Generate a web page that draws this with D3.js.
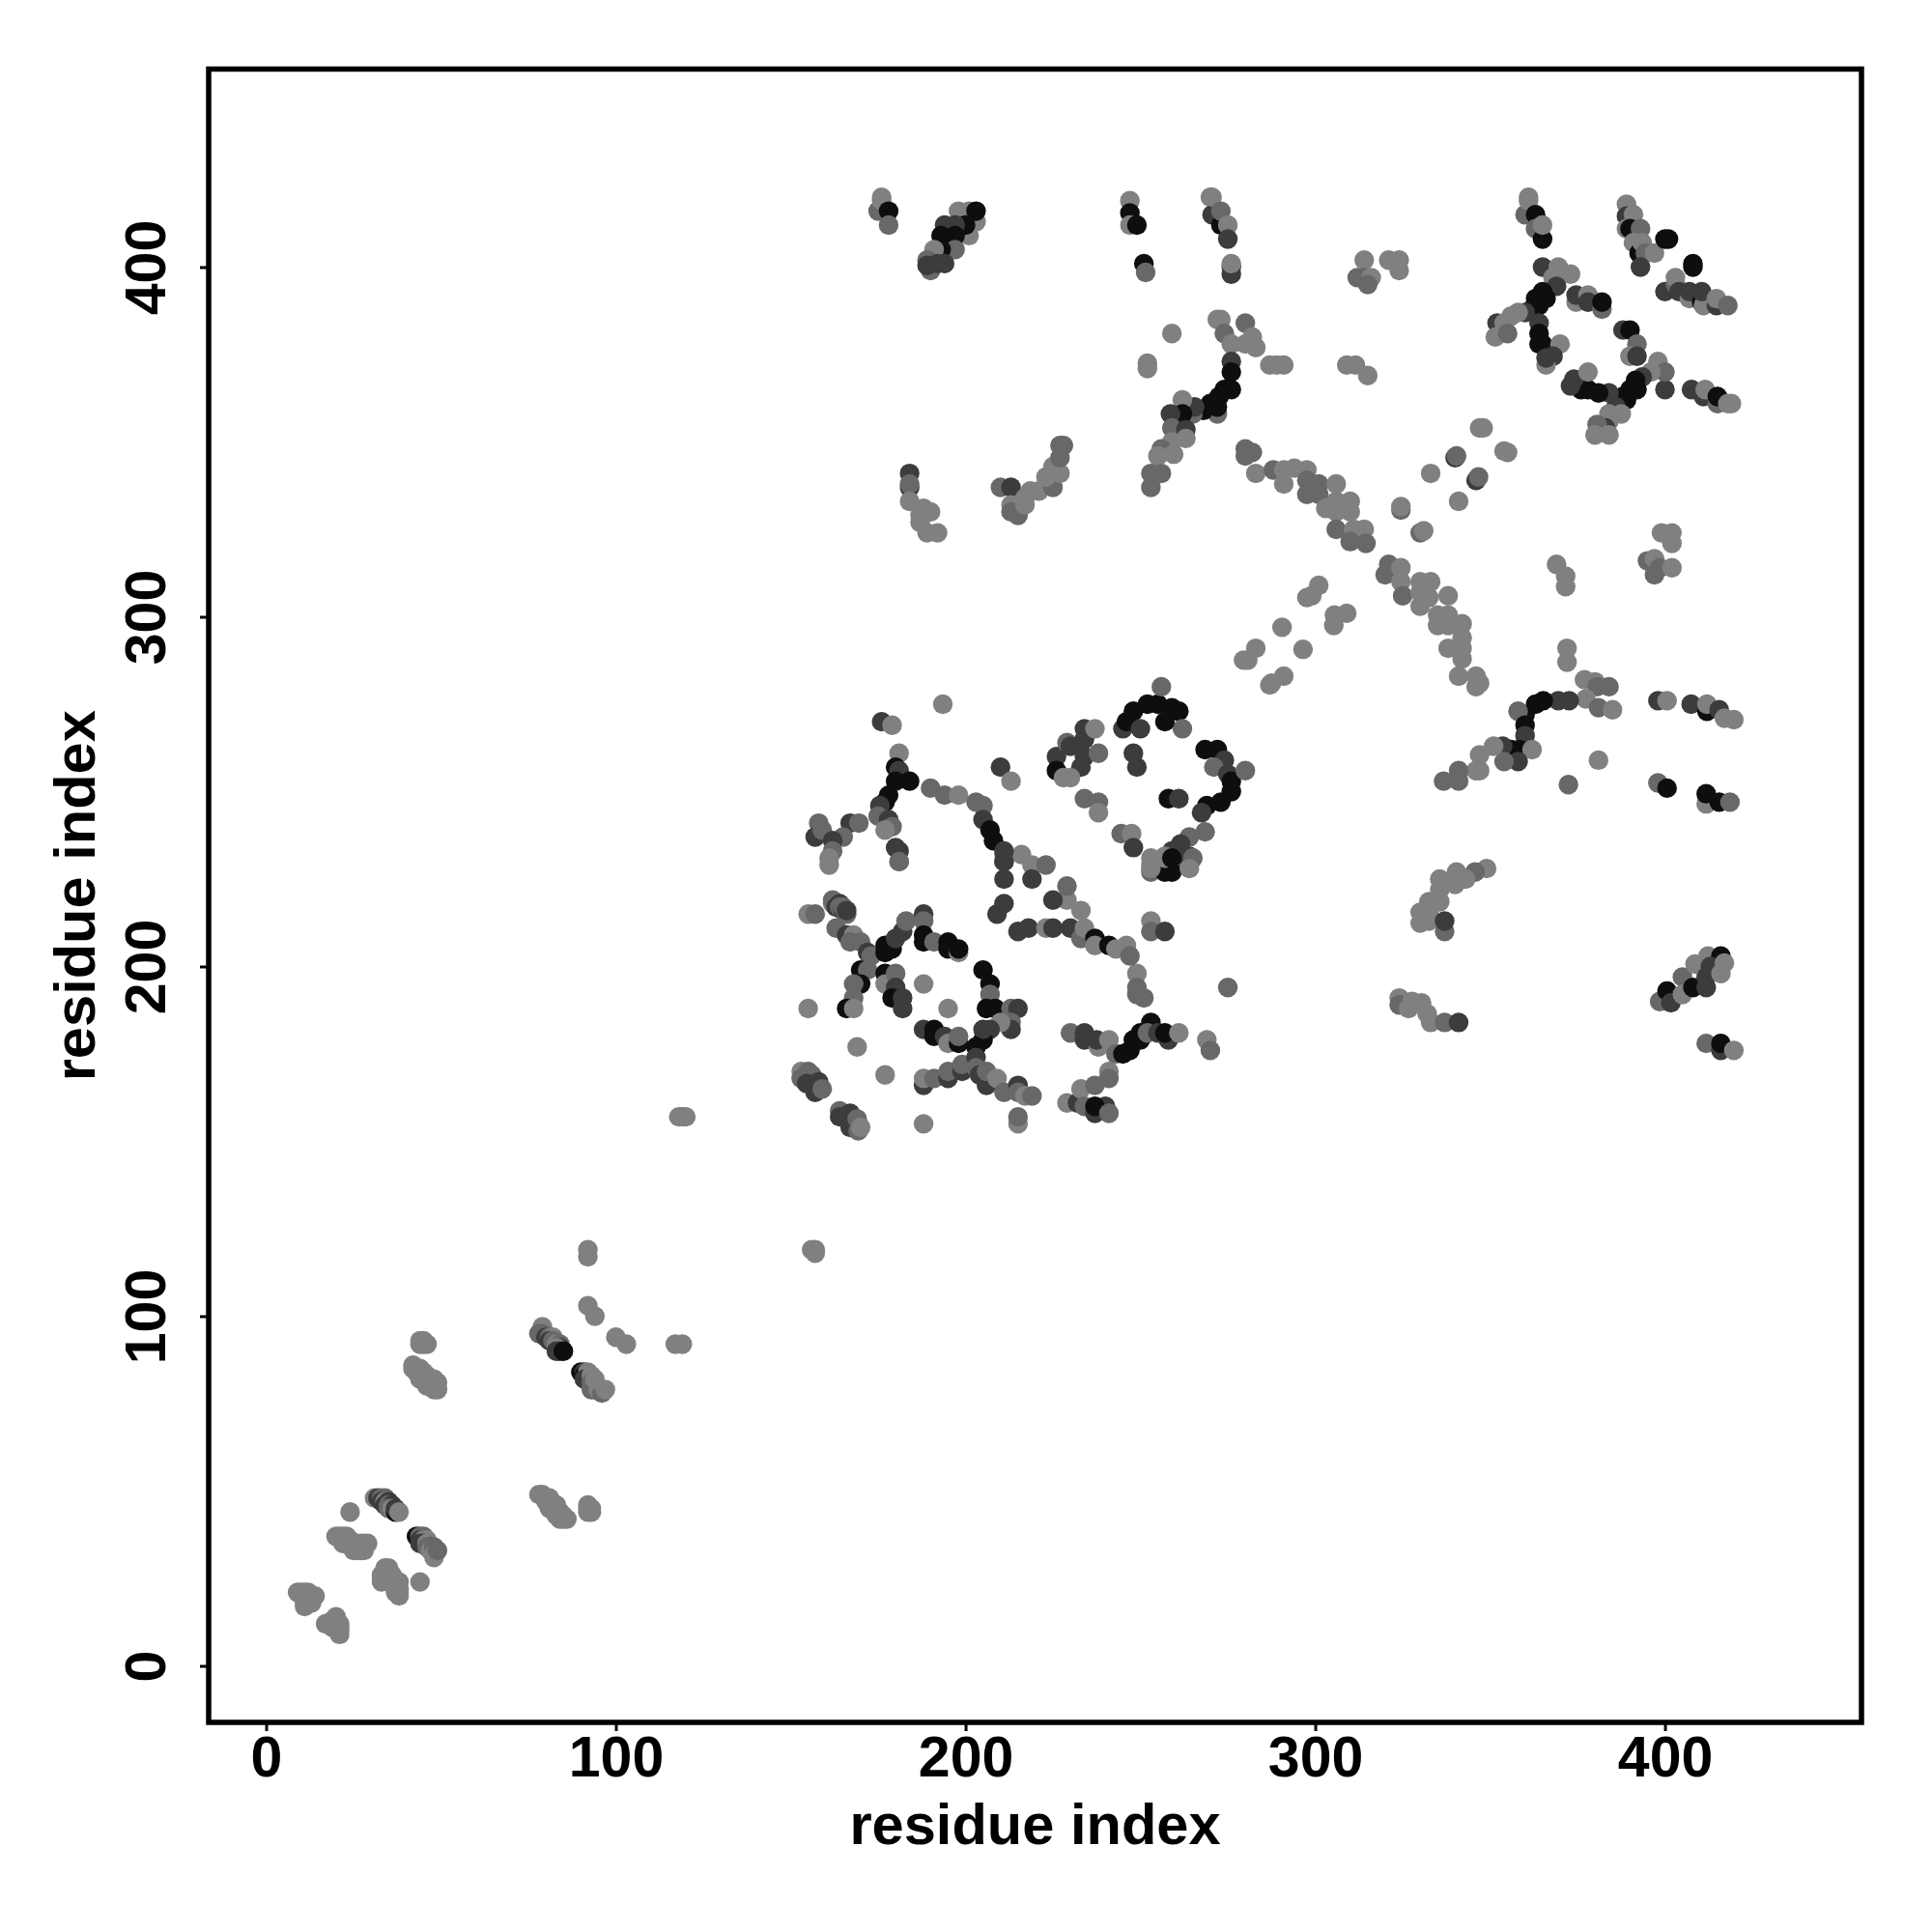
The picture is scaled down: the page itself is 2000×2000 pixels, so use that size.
<!DOCTYPE html>
<html><head><meta charset="utf-8">
<script src="https://cdn.jsdelivr.net/npm/d3@7"></script>
<style>html,body{margin:0;background:#fff}svg{display:block}</style></head>
<body><div id="chart"></div>
<script>
// Each contact: [residue x, residue y, shade level 0 (light) .. 3 (black)]
const tickValues = [0,100,200,300,400];
const axisLabel = "residue index";
const lowLeft = [[9,21,0],[10,21,0],[11,21,0],[12,21,0],[13,20,0],[14,20,0],[12,19,0],[11,18,0],[11,17,0],[13,18,0],
[17,12,0],[18,12,0],[19,13,0],[20,14,0],[19,11,0],[20,11,0],[21,11,0],[21,10,0],[21,9,0],[20,13,0],[21,12,0],[24,44,0],
[31,48,0],[32,48,2],[33,48,1],[34,48,1],[33,47,2],[34,47,0],[35,47,2],[34,46,2],[35,46,1],[36,46,2],[35,45,1],[36,45,0],[37,44,3],[37,45,2],[38,44,0],
[20,37,0],[21,37,0],[22,37,0],[23,37,0],[24,36,0],[22,35,0],[23,35,0],[25,35,0],[26,34,0],[27,35,0],[28,35,0],[29,35,0],[26,33,0],[27,33,0],[28,33,0],[25,33,0],
[33,26,0],[34,28,0],[35,28,0],[34,27,0],[35,27,0],[33,25,0],[33,24,0],[36,25,0],[36,24,0],[38,24,0],[37,23,0],[37,22,0],[38,22,0],[38,21,0],[38,20,0],[37,21,0],[36,26,0],[44,24,0],
[43,37,3],[44,37,1],[45,37,1],[44,36,2],[45,36,0],[46,36,0],[44,35,2],[45,35,2],[46,35,0],[47,34,2],[46,34,1],[47,33,0],[48,33,1],[48,34,1],[48,32,0],[48,31,0],[49,33,1]];
const midLeft = [[44,93,0],[45,93,0],[46,92,0],[44,92,0],[45,92,0],
[42,86,0],[42,85,0],[43,85,0],[44,85,0],[43,84,0],[44,84,0],[45,84,0],[46,83,0],[45,83,0],[46,82,0],[47,81,0],[47,80,0],[48,80,0],[48,79,0],[49,79,0],[49,81,0],[48,82,0],[44,82,0],[46,80,0],
[79,97,0],[78,95,1],[79,95,1],[80,94,2],[81,94,1],[82,94,0],[81,93,2],[82,93,1],[83,92,0],[84,92,1],[84,91,2],[83,91,0],[83,90,2],[84,90,2],[85,90,3],
[90,84,3],[91,84,2],[91,83,3],[92,84,0],[91,82,2],[92,82,2],[93,83,0],[93,81,1],[94,80,1],[93,79,1],[94,79,1],[95,79,0],[96,78,1],[97,79,0],[94,82,0],
[92,119,0],[92,117,0],[92,103,0],[94,100,0],[100,94,0],[103,92,0],[117,92,0],[119,92,0],
[78,49,0],[79,49,0],[80,48,0],[81,48,0],[80,47,0],[82,46,0],[83,46,0],[82,45,0],[83,45,0],[84,44,0],[85,43,0],[84,42,0],[85,42,0],[86,42,0],[81,45,0],[83,43,0],
[92,46,0],[93,45,0],[92,44,0],[92,45,0],[93,44,0],[157,119,0],[156,119,0],[157,118,0],[118,157,0],[120,157,0],[119,157,0]];
const ringA = [[161,229,0],[162,218,0],[162,219,1],[163,218,1],[163,217,2],[164,218,2],[164,217,1],[165,216,2],[165,217,1],[166,215,1],[166,216,2],[155,215,0],[157,215,1],
[163,211,1],[166,209,2],[168,209,0],[170,207,1],[167,207,1],[172,204,2],[173,203,1],
[177,204,3],[177,206,3],[179,205,3],[180,208,2],[182,210,2],[183,213,1],[188,215,2],[188,213,1],[188,209,3],[188,207,3],[191,207,1],[195,205,3],[195,207,3],[198,204,0],[198,205,3],
[205,199,3],[207,195,3],[207,192,1],[206,188,3],[208.5,188,3],[213,188,1],[215,188,2],[213,184,1],[213,182,2],[210,184,0],[207,182,2],[205,179,3],[205,182,2],[203,177,3],
[170,199,3],[172,199,1],[170,195,3],[168,195,1],[168,191,1],[166,188,3],[168,188,0],[177,198,3],[177,195,0],[180,198,1],[180,194,2],[179,191,3],[182,191,2],[182,188,2],
[188,195,0],[155,188,0],[195,188,0],[169,177,0],[177,169,0],[188,155,0],
[188,182,2],[191,182,3],[191,180,3],[194,180,2],[195,178,0],[198,178,3],[198,180,1],
[188,166,2],[188,168,0],[191,168,1],[195,168,2],[195,170,1],[199,170,2],[199,172,1],
[203,174,2],[203,171,1],[204,169,2],[206,166,2],[206,170,1],[209,168,0],[211,164,1],[215,166,2],[215,164,1],[217,163,0],[219,163,1],[215,155,0],[215,157,1],
[229,161,0],[232,161,2],[233,165,0],[234,160,1],[237,166,1],[241,170,0],[241,168,1],[237,158,2],[240,160,2],[237,160,3],[241,158,1],
[230,181,1],[234,179,2],[234,181,2],[238,177,0],[237.5,179,2],[241,179,0],[243,175,1],[245,175,3],[247,176,3],[248,179,3],[250,179,3],[250,181,3],[253,184,3],[252,181,1],[258,179,2],[255,181,2],[257,181,3],[261,181,0],[269,179,0],[270,176,1],[275,194,1],
[249,198,0],[249,194,1],[249,192,1],[251,191,1],
[215,210,2],[218,211,2],[223,211,0],[225,211,2],[230,211,2],[233,208,1],[234,211,0],[237,208,3],[237,206,0],[241,206,3],[243,205,0],[246,206,0],[247,203,1],
[253,213,0],[253,210,1],[257,210,2],[233,216,0],[229,219,0],[225,219,2],[229,223,1],[219,229,0],[223,229,1],[219,225,2],[216,232,0],
[211,232,0],[211,230,2],[211,225,2],[211,218,2],[209,215,2],[181,230,1],[181,233,2],
[153,170,0],[155,170,1],[156,169,1],[153,168,1],[154.6,166.5,2],[158,167,2],[157,164,2],[159,165,1],
[164,158.7,1],[167,158,2],[164,157,2],[167,154,2],[169,156.4,1],[169.3,153,1],[170,154,0]];
const ringB = [[158,241,1],[157,237,2],[159,239,1],[167,241,2],[169.5,241,1],[165,237,1],[162,236,2],[162,233,1],[161,231,0],
[176,270,2],[179,269,0],[181,261,0],[180,257,3],[181,256,2],[180,253,3],[184,253,3],[178,249,3],[177,247,3],[175.5,246,2],[175,243,1],[178,242,2],[179,240,1],[177,239,0],[180,234,2],[181,230,1],
[190,251,1],[194,249,1],[198,249,0],[203,247,1],[205,246,1],[205,242,2],[207,239,3],[208,236,3],[211,233,2],[211,230,2],[210,257,2],[213,253,0],[193.5,275,0]];
const ringC = [[226,260,2],[226,256,3],[229,264,1],[230,263,2],[234,265,2],[234,268,2],[237,268,0],[234,260,2],[233,257,2],[238,261,1],[228,254,0],[230,254,0],[234,248,1],[238,247,1],[238,244,0],
[245,268,2],[246,270,3],[248,273,3],[252,275,3],[255,275,3],[256,280,1],[259,274,3],[261,273,3],[262,268,1],[257,270,3],[250,268,2],[248,261,2],[249,257,2],[258,248,3],[261,248,2],
[268.5,262,3],[272,262,3],[274,259,2],[271,257,1],[275,255,2],[276,253,3],[276,250,3],[273,247,3],[269,246,3],[267.5,244,2],[280,256,1],
[268.5,238.5,1],[264,237,1],[261.5,235,2],[259,233,2],[264,231.5,2],[257,231.5,0],[253,229,0],[253,227,1],[257,227,3],[259,227,3],[264,229,2],[244.5,238,1],[247.5,238,0],[248,234,2],
[253,231,0],[253,228,0],[257,231,0],[259,231,3],[265,231,1],[264,228,0]];
const topLeft = [[176,420,0],[175,416,1],[176,419,0],[178,416,3],[178,412,1],
[201,416,0],[198,416,0],[203,413,0],[203,416,3],[201,409,0],[200,412,3],[197,412,2],[194,412,2],[197,409,3],[193,409,3],[197,405,1],[193,405,3],[191,405,0],[189,402,1],[190,399,1],[189,400.5,2],[192,401,2],[194,401,2],
[247,419,0],[247,415.5,3],[247,412,0],[249,412,3],[251,401,3],[251.5,398.5,1],
[270,420,0],[270.5,415,2],[270.5,420,0],[273,412,3],[273,416,1],[275,412,0],[275,408,2],[276,398,2],[276,400,2],[276,401,0],
[184,341,2],[184,337,2],[184,338,1],[184,333,0],[188,331,0],[190,330,0],[187,329,0],[187,327,0],[189,324,0],[192,324,0],
[210,337,1],[213,337,2],[213,332,0],[213,330,1],[215,329,1],[217,334,0],[218.5,336,0],[217,332,0],[221,336,0],[225,337,1],[223,340,0],[227,341,0],[225,343,0],[227,345.5,1],[227,349,1],[228,349,1]];
const midTop = [[272,385,0],[273,385,0],[274,381,1],[276,378,0],[280,384,1],[282,380,0],[280,378,0],[283,377,0],[287,372,0],[289,372,0],[291,372,0],[259,381,0],[252,372.5,0],[252,371,0],
[276,373,2],[276,370,3],[276,365,3],[274,365,3],[272.5,363,3],[272,358,1],[272,360,3],[270,361,3],[268,359,3],[265,358,1],[265.5,360,2],[262,362,0],[262,358,3],[258.6,358,2],[259,354,1],[263,353.5,2],[263,351,0],[259,350,0],[256,348,1],[259.5,346.5,0],[255,346,0],
[253,341,1],[256,341,1],[253,337,1]];
const topRight = [[361,420,0],[360,415,1],[361,419,0],[363,415,3],[363,411,1],[365,408,3],[365,412,0],
[365,400,2],[369.5,400,0],[373,398,0],[368,397,0],[369,394.5,2],[365,393,3],[363,391,3],[366,391,3],[362,388,3],[364,389,3],[360,387,2],[358,387,0],[356,386,0],[352,384,2],[354,384,0],[351.5,380,0],[355,381,1],[364,384,2],[364,381,3],[364,378,3],[365,378,3],[370,378,0],[368,374.5,2],[366,372,0],[366,374,2],
[374.6,390,0],[374.6,392,2],[378,392,0],[378,390,2],[382,388,1],[382,390,3],
[388,382,2],[390,382,3],[392,378,1],[390,374.5,0],[392,374.5,2],
[398,373,0],[400,365,2],[400,370,1],[396,370,0],[393.5,368.6,2],[391.6,367.6,3],[392,365,3],[390,365,3],[388,363,3],[389,362,3],[386,360,2],[384,358,0],[387.5,358,0],[384,356,0],[383,354,2],[380.6,355,1],[380,352,0],[384,352,0],
[384,364,2],[381,364,3],[378,365,3],[376,365,3],[374,368,2],[373,366,2],[378,370,0],
[407.6,365,2],[411,363,2],[411.5,365,0],[415,361,1],[415,363,3],[418,361,0],[419,361,0],
[389,418,0],[389,414.6,2],[391,415,0],[389,411,0],[390,411,3],[393,411,1],[391,407,0],[392.6,404,3],[393.5,407,0],[394.4,404,1],[393,400,2],[397,404,0],[400,408,3],[401,408,3],[408,401,3],[408,400,3],
[400,393,2],[403,395,1],[403,397,0],[404,393,2],[407,391,0],[407,393,2],[410.5,390,3],[411,389,0],[410.5,393,2],[414.7,389,2],[414.7,391,0],[418,389,1]];
const farTop = [[312,397,1],[314,402,0],[314,397,1],[316,397,0],[315,395,1],[321,402,0],[324,402,0],[324,399,0],[309,372,0],[311.5,372,0],[315,369,0]];
const diagonal = [[280,348,1],[282,347,1],[280,346,1],[283,341,0],[288,342,1],[291,342,0],[294,342.5,0],[297.6,342,0],[291,338,0],[297.6,339,1],[301,338,1],[297.6,335,1],[301,335,1],[306,338,0],
[303,331,0],[306,333,0],[310,333,0],[306,330,0],[310,330,0],[306,325,1],[311,325,0],[314,325,0],[310,321.5,1],[314.5,321,1],
[321,315,1],[320,312,1],[324.5,314,0],[324.5,310,0],[325,306,1],[330,310,0],[333,310,0],[330,307,0],[330,303,0],[332.5,305.5,0],[338,306,0],[335,300.5,0],[338,300.5,0],[335,297.5,0],[338,297.5,0],[342,298,0],[342,294,0],[338,291,0],[342,291,0],[342,288,0],[341,283,0],[346,283,0],[347,281,0],[346,280,0],
[301,309,0],[297.6,305.5,0],[299,306,0],[309,301,0],[305.5,300.5,0],[305.3,297.5,0],[290.5,297,0],[296.5,290.7,0],[283,291,0],[280.7,287.6,0],[279.5,287.6,0],[291,283,0],[287.5,281,0],[287,280.5,0],
[324.5,330.5,1],[324.5,331.5,0],[330,324,1],[331,324.6,0],[333,341,0],[340,345.5,2],[340.4,346,1],[346,339,2],[346.7,340,1],[341,333,0],[354,347.4,0],[355,347,0],[347,354,0],[348,354,0]];
const rightSide = [[369,315,0],[371.6,311.6,0],[371.6,308.6,0],[399,324,0],[402,324,0],[402,321,0],[395,316,1],[397,316.6,0],[397,312,1],[398.5,314,1],[402,314,0],
[372,291,0],[372,287,0],[377,282,0],[380,281.4,0],[380.6,280,1],[384,280,1],[377.4,276.5,0],[381,274,1],[385,273.4,0],
[372.6,276,2],[369.5,276,2],[365.2,276,3],[363,275,3],[360,272,3],[358,273,1],[360,269,3],[360,266,2],[358.4,262,3],[356,262,3],[353.6,263,2],[362,262,0],[358,258.6,2],[354,258.6,1],[351,263,0],[347,260.5,0],[347,256,0],[346,256,0],[341,256,1],[341,253,1],[336.7,253,1],
[381,259,0],[372.4,252,1],
[398,276,2],[400.6,276,0],[407.5,275,2],[412,273,3],[412,275,0],[415.5,273.4,2],[417,271,0],[419.7,270.6,0],
[398,252.5,1],[400.6,251,3],[411.8,246.5,0],[411.8,249.4,3],[415.5,247,3],[418.6,247,1]];
const lowerRight = [[349,228,0],[345.7,227,1],[340.4,227,0],[340,223.5,0],[343,225,0],[335.6,225,0],[335.6,222,0],[335.6,218.5,0],[332.5,218.5,0],[330,215.5,0],[332.5,215.5,0],[330,212.4,0],[332.5,213,0],[337,210,1],[337,213,2],
[324,191,0],[324,189,1],[327.7,190,0],[326.7,188,0],[330.4,189.6,0],[332,186.5,0],[333,184,0],[337,184,1],[341,184,2],
[398.5,190,1],[400.6,193,3],[401.7,189.6,2],[405,197,1],[405,192,0],[408.6,200.7,0],[408,194,3],[412.3,203,0],[411.8,197,2],[411.8,194,2],[416,203,3],[413,200,2],[417,201,0],[416,198,0],
[411.8,178,1],[416,176,2],[416,178,3],[419.7,176,0]];

const contacts = [].concat(lowLeft, midLeft, ringA, ringB, ringC, topLeft, midTop, topRight, farTop, diagonal, rightSide, lowerRight);

const W = 2000, H = 2000;
const frame = {left:216, right:1927, top:71.5, bottom:1783};
const x = d3.scaleLinear().domain([-16.44,456.2]).range([frame.left,frame.right]);
const y = d3.scaleLinear().domain([-16.16,456.63]).range([frame.bottom,frame.top]);
const shade = d3.scaleLinear().domain([0,1,2,3]).range([128,104,60,14]);

const svg = d3.select("#chart").append("svg").attr("width",W).attr("height",H);
svg.append("g").selectAll("circle").data(contacts).join("circle")
  .attr("cx",d=>x(d[0])).attr("cy",d=>y(d[1])).attr("r",10.2)
  .attr("fill",d=>{const g=Math.round(shade(d[2]));return `rgb(${g},${g},${g})`;});

svg.append("rect").attr("x",frame.left).attr("y",frame.top)
  .attr("width",frame.right-frame.left).attr("height",frame.bottom-frame.top)
  .attr("fill","none").attr("stroke","#000").attr("stroke-width",5.5);

const font = "'Liberation Sans', Arial, sans-serif";
const gx = svg.append("g").attr("transform",`translate(0,${frame.bottom})`)
  .call(d3.axisBottom(x).tickValues(tickValues).tickSize(9).tickSizeOuter(0).tickPadding(8));
const gy = svg.append("g").attr("transform",`translate(${frame.left},0)`)
  .call(d3.axisLeft(y).tickValues(tickValues).tickSize(9).tickSizeOuter(0));
[gx,gy].forEach(g=>{g.select(".domain").remove();
  g.selectAll("line").attr("stroke","#000").attr("stroke-width",3);
  g.selectAll("text").attr("fill","#000").style("font",`bold 59px ${font}`);});
gx.selectAll("text").attr("dy",null).attr("y",null)
  .attr("transform","translate(0,56)");
gy.selectAll("text").attr("x",null).attr("dy",null).attr("text-anchor","middle")
  .attr("transform","translate(-45,0) rotate(-90)");

svg.append("text").attr("x",(frame.left+frame.right)/2).attr("y",1909).attr("text-anchor","middle")
  .style("font",`bold 59.6px ${font}`).text(axisLabel);
svg.append("text").attr("transform",`translate(98,${(frame.top+frame.bottom)/2}) rotate(-90)`)
  .attr("text-anchor","middle").style("font",`bold 59.6px ${font}`).text(axisLabel);
</script></body></html>
